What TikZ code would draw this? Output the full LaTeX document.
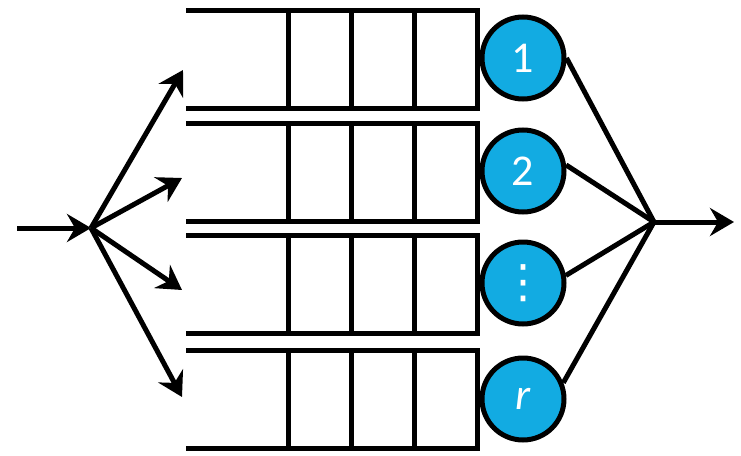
\documentclass[tikz,border=0pt]{standalone}
\usepackage{fontspec}
\setmainfont{Carlito}
\newfontfamily\dejavu{DejaVu Sans}
\usetikzlibrary{arrows.meta}
\definecolor{srvblue}{RGB}{18,171,226}
\begin{document}
\begin{tikzpicture}[x=1pt,y=-1pt,
  line width=5pt,
  tip/.style={-{Stealth[length=24pt,width=28pt,inset=8pt]}},
  server/.style={circle,draw=black,fill=srvblue,minimum size=82pt,inner sep=0pt,text=white,font=\fontsize{44}{44}\selectfont},
]
\useasboundingbox (0,0) rectangle (741,455);
% queues
\foreach \t/\b in {10/108,123/221,235/333,350/448} {
  \draw[line join=miter] (186,\t) -- (477.5,\t) -- (477.5,\b) -- (186,\b);
  \foreach \x in {288,351,414} \draw (\x,\t) -- (\x,\b);
}
% servers
\node[server] (s1) at (523,58) {1};
\node[server] (s2) at (523,171) {2};
\node[server] (s3) at (523,283) {\dejavu\fontsize{46}{46}\selectfont ⋮};
\node[server] (s4) at (523,399) {\itshape r};
% input and fork
\coordinate (in) at (17,228);
\coordinate (fork) at (91,228);
\coordinate (t1) at (183,70);
\coordinate (t2) at (182,178);
\coordinate (t3) at (182,290);
\coordinate (t4) at (182,397);
\draw[tip] (in) -- (fork);
\foreach \i in {1,...,4} \draw[tip] (fork) -- (t\i);
% join and output
\coordinate (join) at (654,222);
\coordinate (out) at (734,222);
\draw (s1.0) -- (join);
\draw (s2.8) -- (join);
\draw (s3.10) -- (join);
\draw (s4.22) -- (join);
\draw[tip] (join) -- (out);
\end{tikzpicture}
\end{document}
